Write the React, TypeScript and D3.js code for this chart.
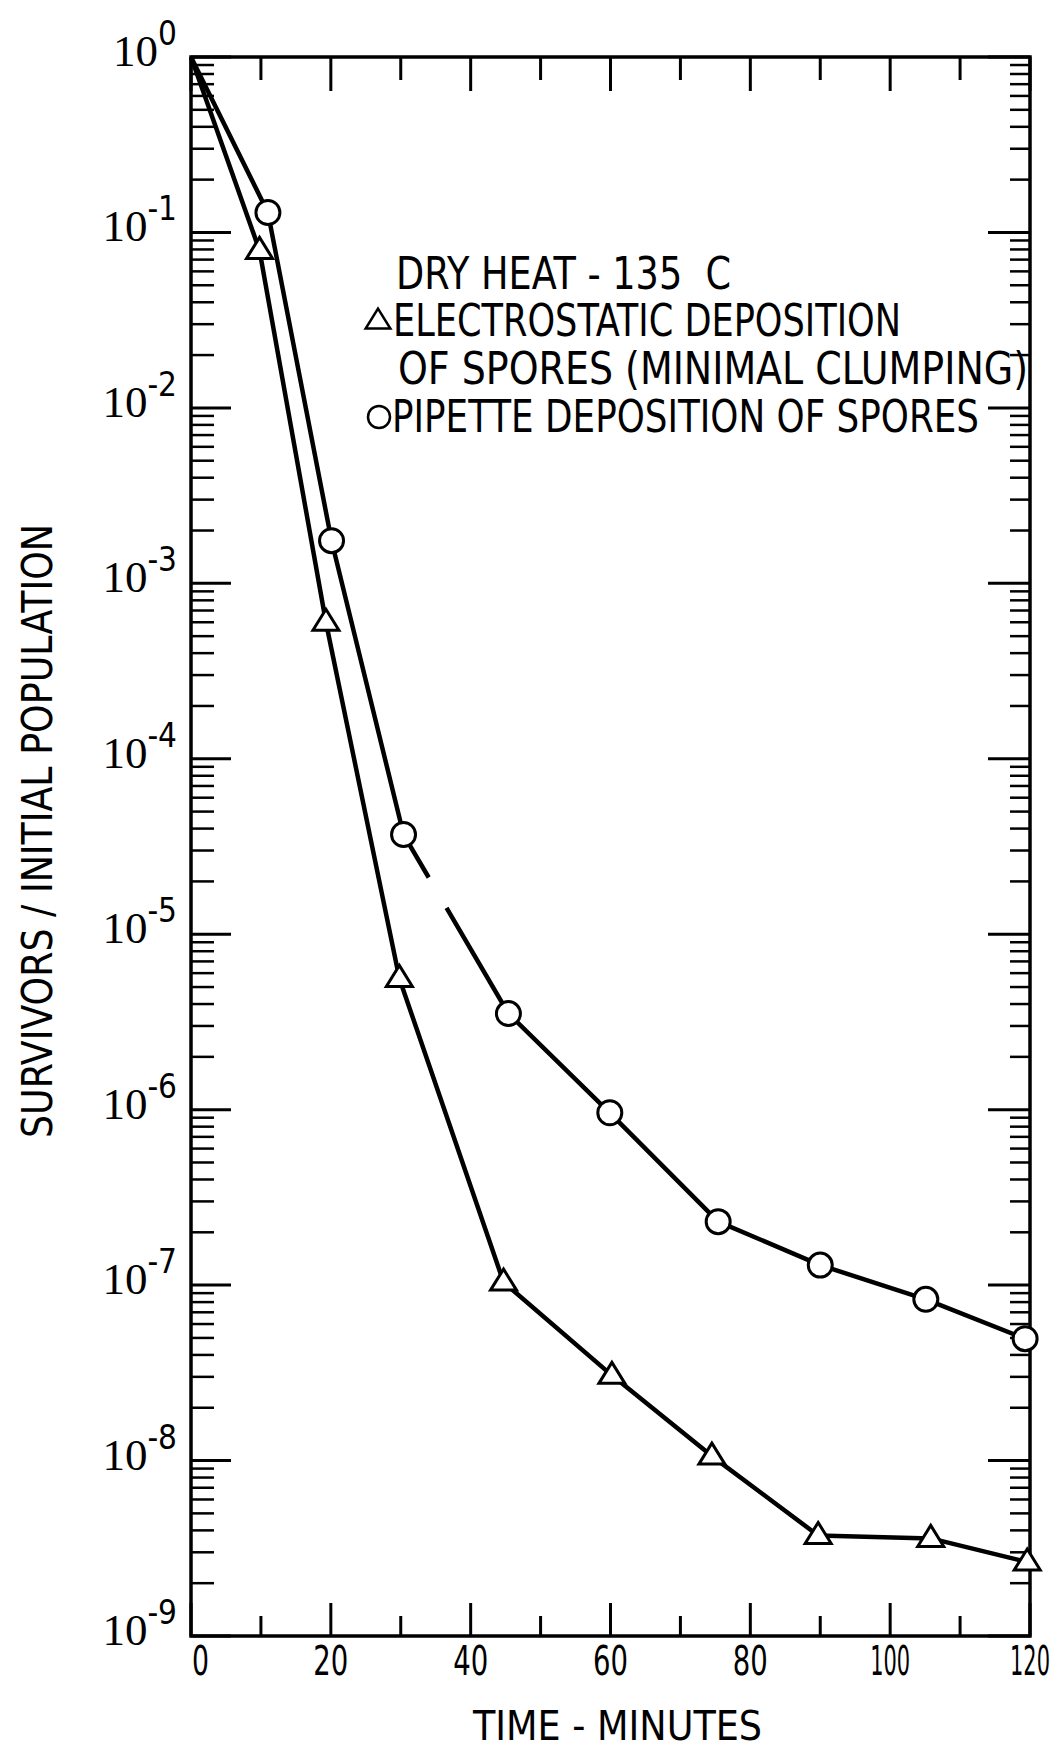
import React from "react";
import * as d3 from "d3";

// ---- data ----
const xMajorTicks = [0, 20, 40, 60, 80, 100, 120];
const xMinorTicks = [10, 30, 50, 70, 90, 110];
const yDecadeExps = [0, -1, -2, -3, -4, -5, -6, -7, -8, -9];
const yMinorMultiples = [2, 3, 4, 5, 6, 7, 8, 9];

const triTimes = [0, 9.8, 19.3, 29.8, 44.7, 60.2, 74.5, 89.7, 105.8, 119.6];
const triValues = [1, 0.079, 6.0e-4, 5.6e-6, 1.04e-7, 3.06e-8, 1.06e-8, 3.74e-9, 3.6e-9, 2.64e-9];
const cirTimes = [0, 11.0, 20.1, 30.4, 45.4, 59.9, 75.4, 90.0, 105.1, 119.3];
const cirValues = [1, 0.13, 1.75e-3, 3.7e-5, 3.53e-6, 9.6e-7, 2.3e-7, 1.3e-7, 8.3e-8, 4.95e-8];

const legendTitle = "DRY HEAT - 135  C";
const legendTriLines = ["ELECTROSTATIC DEPOSITION", "OF SPORES (MINIMAL CLUMPING)"];
const legendCirLine = "PIPETTE DEPOSITION OF SPORES";
const xTitle = "TIME - MINUTES";
const yTitle = "SURVIVORS / INITIAL POPULATION";

// ---- layout ----
const W = 1061;
const H = 1750;
const L = 191;
const R = 1030;
const T = 57;
const B = 1636;
const SANS = "'Liberation Sans Narrow', 'DejaVu Sans Condensed', 'Arial Narrow', sans-serif";
const SERIF = "'Liberation Serif', 'DejaVu Serif', serif";
const labelWidth = (s: string) => (s.length === 1 ? 17 : s.length === 2 ? 35 : 40);

export default function App() {
  const x = d3.scaleLinear().domain([0, 120]).range([L, R]);
  const y = d3.scaleLog().domain([1, 1e-9]).range([T, B]);

  const triPts: [number, number][] = triTimes.map((t, i) => [x(t), y(triValues[i])]);
  const cirPts: [number, number][] = cirTimes.map((t, i) => [x(t), y(cirValues[i])]);

  const line = d3.line<[number, number]>().x((d) => d[0]).y((d) => d[1]);

  // gap in pipette line between 4th and 5th points
  const a = cirPts[3];
  const b = cirPts[4];
  const lerp = (f: number): [number, number] => [a[0] + (b[0] - a[0]) * f, a[1] + (b[1] - a[1]) * f];
  const cirPart1 = [...cirPts.slice(0, 4), lerp(0.24)];
  const cirPart2 = [lerp(0.41), ...cirPts.slice(4)];

  const triPath = (cx: number, cy: number, s = 1) =>
    `M${cx},${cy - 13 * s} L${cx + 13 * s},${cy + 8 * s} L${cx - 13 * s},${cy + 8 * s} Z`;

  const yMinor: number[] = [];
  yDecadeExps.slice(1).forEach((e) => {
    yMinorMultiples.forEach((m) => yMinor.push(m * Math.pow(10, e)));
  });

  return (
    <svg
      width={W}
      height={H}
      style={{ position: "absolute", left: 0, top: 0, background: "#fff" }}
    >
      <rect x={0} y={0} width={W} height={H} fill="#fff" />
      {/* frame */}
      <rect x={L} y={T} width={R - L} height={B - T} fill="none" stroke="#000" strokeWidth={3.5} />

      {/* x ticks */}
      {xMajorTicks.map((t) => {
        const s = String(t);
        const w = labelWidth(s);
        return (
          <g key={"xm" + t}>
            <line x1={x(t)} x2={x(t)} y1={B} y2={B - 33} stroke="#000" strokeWidth={3} />
            <line x1={x(t)} x2={x(t)} y1={T} y2={T + 34} stroke="#000" strokeWidth={3} />
            <text
              x={t === 0 ? x(t) + 1 : x(t) + w / 2}
              y={B + 39}
              textAnchor={t === 0 ? "start" : "end"}
              fontFamily={SANS}
              fontSize={40}
              textLength={w}
              lengthAdjust="spacingAndGlyphs"
              fill="#000"
            >
              {s}
            </text>
          </g>
        );
      })}
      {xMinorTicks.map((t) => (
        <g key={"xn" + t}>
          <line x1={x(t)} x2={x(t)} y1={B} y2={B - 20} stroke="#000" strokeWidth={3} />
          <line x1={x(t)} x2={x(t)} y1={T} y2={T + 23} stroke="#000" strokeWidth={3} />
        </g>
      ))}

      {/* y ticks */}
      {yDecadeExps.map((e) => {
        const yy = y(Math.pow(10, e));
        return (
          <g key={"yd" + e}>
            <line x1={L} x2={L + 40} y1={yy} y2={yy} stroke="#000" strokeWidth={3} />
            <line x1={R} x2={R - 42} y1={yy} y2={yy} stroke="#000" strokeWidth={3} />
            <text x={177} y={yy + 9} textAnchor="end" fontFamily={SERIF} fill="#000">
              <tspan fontSize={45}>10</tspan>
              <tspan fontSize={33} dy={-21} fontFamily={SANS}>
                {e === 0 ? "0" : "-" + Math.abs(e)}
              </tspan>
            </text>
          </g>
        );
      })}
      {yMinor.map((v, i) => (
        <g key={"ym" + i}>
          <line x1={L} x2={L + 23} y1={y(v)} y2={y(v)} stroke="#000" strokeWidth={2.5} />
          <line x1={R} x2={R - 20} y1={y(v)} y2={y(v)} stroke="#000" strokeWidth={2.5} />
        </g>
      ))}

      {/* lines */}
      <path d={line(triPts) || ""} fill="none" stroke="#000" strokeWidth={4.5} strokeLinejoin="round" />
      <path d={line(cirPart1) || ""} fill="none" stroke="#000" strokeWidth={4.5} strokeLinejoin="round" />
      <path d={line(cirPart2) || ""} fill="none" stroke="#000" strokeWidth={4.5} strokeLinejoin="round" />

      {/* markers */}
      {triPts.slice(1).map((p, i) => (
        <path key={"tm" + i} d={triPath(p[0], p[1])} fill="#fff" stroke="#000" strokeWidth={3} strokeLinejoin="miter" />
      ))}
      {cirPts.slice(1).map((p, i) => (
        <circle key={"cm" + i} cx={p[0]} cy={p[1]} r={12} fill="#fff" stroke="#000" strokeWidth={3} />
      ))}

      {/* legend */}
      <g fontFamily={SANS} fontSize={44} fill="#000">
        <text x={396} y={289} textLength={335} lengthAdjust="spacingAndGlyphs" style={{ whiteSpace: "pre" }}>
          {legendTitle}
        </text>
        <path d={triPath(378, 321, 0.95)} fill="#fff" stroke="#000" strokeWidth={2.5} />
        <text x={393} y={336} textLength={508} lengthAdjust="spacingAndGlyphs">{legendTriLines[0]}</text>
        <text x={398} y={384} textLength={630} lengthAdjust="spacingAndGlyphs">{legendTriLines[1]}</text>
        <circle cx={379} cy={417} r={11} fill="#fff" stroke="#000" strokeWidth={2.5} />
        <text x={392} y={432} textLength={587} lengthAdjust="spacingAndGlyphs">{legendCirLine}</text>
      </g>

      {/* axis titles */}
      <text
        x={473}
        y={1740}
        fontFamily={SANS}
        fontSize={40}
        textLength={289}
        lengthAdjust="spacingAndGlyphs"
        fill="#000"
      >
        {xTitle}
      </text>
      <text
        transform={`translate(52, 831) rotate(-90)`}
        x={-307}
        fontFamily={SANS}
        fontSize={42}
        textLength={614}
        lengthAdjust="spacingAndGlyphs"
        fill="#000"
      >
        {yTitle}
      </text>
    </svg>
  );
}
